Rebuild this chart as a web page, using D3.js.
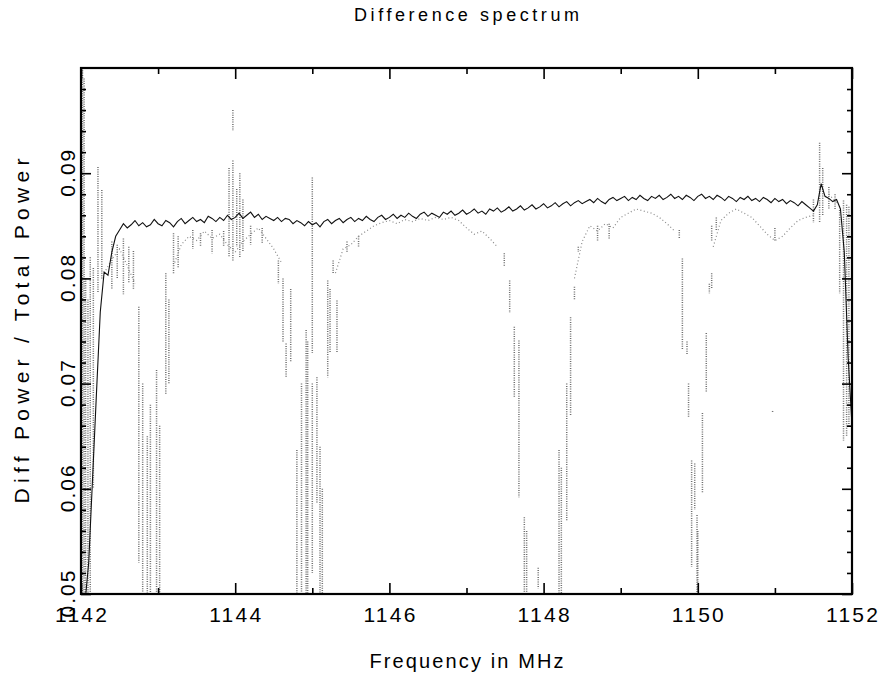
<!DOCTYPE html>
<html>
<head>
<meta charset="utf-8">
<script src="https://cdn.jsdelivr.net/npm/d3@7"></script>
<style>
  body { margin: 0; background: #fff; }
  svg { display: block; }
  .tick-label { font-family: "Liberation Sans", Arial, sans-serif; fill: #000; }
</style>
</head>
<body>
<div id="chart"></div>
<script>
// axis ticks
const xMajorTicks = [1142, 1144, 1146, 1148, 1150, 1152];
const xMinorTicks = [1143, 1145, 1147, 1149, 1151];
const yMajorTicks = [0.05, 0.06, 0.07, 0.08, 0.09];
const yMinorTicks = [0.052, 0.054, 0.056, 0.058, 0.062, 0.064, 0.066, 0.068,
  0.072, 0.074, 0.076, 0.078, 0.082, 0.084, 0.086, 0.088,
  0.092, 0.094, 0.096, 0.098];

// averaged difference spectrum, 0.05 MHz channels from 1142.00 to 1152.00
const mainStart = 1142;
const mainStep = 0.05;
const mainValues = [
  0.0470, 0.0490, 0.0530, 0.0610, 0.0690, 0.0768, 0.0806, 0.0803, 0.0825, 0.0840,
  0.0846, 0.0852, 0.0848, 0.0851, 0.0855, 0.0850, 0.0853, 0.0849, 0.0851, 0.0856,
  0.0852, 0.0850, 0.0855, 0.0853, 0.0849, 0.0854, 0.0857, 0.0852, 0.0855, 0.0858,
  0.0854, 0.0856, 0.0853, 0.0859, 0.0857, 0.0854, 0.0858, 0.0855, 0.0860, 0.0856,
  0.0858, 0.0862, 0.0857, 0.0860, 0.0863, 0.0858, 0.0861, 0.0856, 0.0859, 0.0857,
  0.0855, 0.0858, 0.0854, 0.0857, 0.0856, 0.0852, 0.0855, 0.0853, 0.0850, 0.0854,
  0.0851, 0.0853, 0.0849, 0.0854, 0.0856, 0.0852, 0.0855, 0.0857, 0.0853, 0.0856,
  0.0858, 0.0854, 0.0857, 0.0855, 0.0859, 0.0856, 0.0854, 0.0858, 0.0860, 0.0856,
  0.0858, 0.0861, 0.0857, 0.0860, 0.0858, 0.0862, 0.0859, 0.0857, 0.0861, 0.0863,
  0.0859, 0.0862, 0.0860, 0.0858, 0.0863, 0.0861, 0.0864, 0.0860, 0.0862, 0.0865,
  0.0861, 0.0863, 0.0866, 0.0862, 0.0864, 0.0861, 0.0866, 0.0864, 0.0867, 0.0863,
  0.0865, 0.0868, 0.0864, 0.0866, 0.0869, 0.0865, 0.0867, 0.0870, 0.0866, 0.0868,
  0.0871, 0.0867, 0.0869, 0.0872, 0.0868, 0.0871, 0.0873, 0.0869, 0.0872, 0.0874,
  0.0871, 0.0873, 0.0875, 0.0872, 0.0876, 0.0873, 0.0871, 0.0875, 0.0877, 0.0874,
  0.0876, 0.0878, 0.0874, 0.0877, 0.0875, 0.0879, 0.0876, 0.0874, 0.0878, 0.0876,
  0.0879, 0.0875, 0.0877, 0.0880, 0.0876, 0.0878, 0.0875, 0.0879, 0.0877, 0.0874,
  0.0878, 0.0880, 0.0876, 0.0878, 0.0875, 0.0879, 0.0877, 0.0874, 0.0878, 0.0876,
  0.0873, 0.0877, 0.0875, 0.0878, 0.0874, 0.0876, 0.0873, 0.0877, 0.0875, 0.0872,
  0.0876, 0.0873, 0.0875, 0.0871, 0.0874, 0.0872, 0.0869, 0.0873, 0.0870, 0.0867,
  0.0864, 0.0870, 0.0890, 0.0878, 0.0876, 0.0873, 0.0875, 0.0866, 0.0825, 0.0725,
  0.0660
];

// lower scatter of the individual spectra near the mean, 0.1 MHz channels (null = inside a dip)
const lowerStart = 1142;
const lowerStep = 0.1;
const lowerValues = [
  null, null, null, 0.0805, 0.0818, 0.0828, 0.0812, 0.0795, null, null,
  null, null, 0.0812, 0.0832, 0.0840, 0.0836, 0.0845, 0.0838, 0.0842, 0.0832,
  0.0825, 0.0835, 0.0842, 0.0848, 0.0838, 0.0828, 0.0815, null, null, null,
  null, null, null, 0.0805, 0.0828, 0.0832, 0.0840, 0.0845, 0.0850, 0.0853,
  0.0855, 0.0852, 0.0856, 0.0854, 0.0857, 0.0855, 0.0858, 0.0856, 0.0858, 0.0855,
  0.0848, 0.0842, 0.0845, 0.0838, 0.0830, null, null, null, null, null,
  null, null, null, null, 0.0800, 0.0835, 0.0850, 0.0845, 0.0852, 0.0848,
  0.0858, 0.0862, 0.0866, 0.0864, 0.0862, 0.0858, 0.0852, 0.0845, null, null,
  null, null, 0.0830, 0.0855, 0.0862, 0.0866, 0.0862, 0.0858, 0.0850, 0.0842,
  0.0836, 0.0840, 0.0848, 0.0855, 0.0858, 0.0860, null, 0.0880, 0.0872, null,
  null
];

// vertical dotted columns of the individual spectra: frequency, top, bottom
const streakFreq = [
  1142.00, 1142.02, 1142.04, 1142.06, 1142.09, 1142.12, 1142.16, 1142.22, 1142.27,
  1142.40, 1142.47, 1142.55, 1142.62, 1142.68, 1142.75, 1142.80, 1142.86, 1142.90,
  1142.98, 1143.02, 1143.10, 1143.14, 1143.20, 1143.26, 1143.45, 1143.55, 1143.70,
  1143.85, 1143.92, 1143.97, 1143.97, 1144.02, 1144.06, 1144.10, 1144.20, 1144.35,
  1144.56, 1144.62, 1144.66, 1144.72, 1144.80, 1144.86, 1144.92, 1144.94, 1145.00,
  1145.00, 1145.06, 1145.10, 1145.13, 1145.20, 1145.23, 1145.27, 1145.32, 1145.45,
  1145.60, 1147.49, 1147.56, 1147.62, 1147.68, 1147.75, 1147.78, 1147.93, 1148.20,
  1148.23, 1148.30, 1148.35, 1148.40, 1148.45, 1148.70, 1148.85, 1149.76, 1149.80,
  1149.86, 1149.88, 1149.92, 1149.96, 1149.99, 1150.00, 1150.06, 1150.11, 1150.15,
  1150.18, 1150.18, 1150.24, 1150.97, 1151.00, 1151.50, 1151.58, 1151.62, 1151.70,
  1151.78, 1151.84, 1151.89, 1151.93, 1151.96
];
const streakTop = [
  0.1000, 0.1000, 0.0990, 0.0800, 0.0780, 0.0820, 0.0810, 0.0906, 0.0884,
  0.0835, 0.0832, 0.0838, 0.0830, 0.0826, 0.0773, 0.0700, 0.0650, 0.0680,
  0.0713, 0.0660, 0.0805, 0.0780, 0.0843, 0.0840, 0.0846, 0.0843, 0.0846,
  0.0845, 0.0905, 0.0960, 0.0912, 0.0885, 0.0900, 0.0875, 0.0850, 0.0848,
  0.0817, 0.0800, 0.0738, 0.0790, 0.0637, 0.0700, 0.0751, 0.0740, 0.0896,
  0.0700, 0.0706, 0.0640, 0.0600, 0.0798, 0.0790, 0.0817, 0.0779, 0.0835,
  0.0840, 0.0824, 0.0798, 0.0754, 0.0741, 0.0573, 0.0560, 0.0525, 0.0637,
  0.0620, 0.0700, 0.0763, 0.0792, 0.0830, 0.0850, 0.0852, 0.0846, 0.0819,
  0.0740, 0.0700, 0.0627, 0.0624, 0.0575, 0.0560, 0.0672, 0.0748, 0.0795,
  0.0850, 0.0805, 0.0858, 0.0674, 0.0848, 0.0875, 0.0929, 0.0905, 0.0887,
  0.0880, 0.0865, 0.0874, 0.0870, 0.0868
];
const streakBottom = [
  0.0490, 0.0490, 0.0490, 0.0490, 0.0490, 0.0490, 0.0600, 0.0786, 0.0800,
  0.0790, 0.0800, 0.0785, 0.0795, 0.0790, 0.0530, 0.0490, 0.0490, 0.0490,
  0.0490, 0.0490, 0.0690, 0.0700, 0.0805, 0.0810, 0.0828, 0.0830, 0.0824,
  0.0830, 0.0820, 0.0940, 0.0817, 0.0830, 0.0820, 0.0825, 0.0832, 0.0833,
  0.0795, 0.0740, 0.0706, 0.0720, 0.0490, 0.0490, 0.0490, 0.0490, 0.0729,
  0.0520, 0.0587, 0.0490, 0.0490, 0.0706, 0.0730, 0.0805, 0.0729, 0.0825,
  0.0830, 0.0812, 0.0767, 0.0687, 0.0592, 0.0490, 0.0490, 0.0505, 0.0490,
  0.0490, 0.0570, 0.0670, 0.0780, 0.0825, 0.0836, 0.0838, 0.0838, 0.0732,
  0.0728, 0.0668, 0.0526, 0.0580, 0.0490, 0.0490, 0.0596, 0.0691, 0.0786,
  0.0836, 0.0790, 0.0845, 0.0672, 0.0835, 0.0853, 0.0853, 0.0860, 0.0865,
  0.0865, 0.0786, 0.0646, 0.0650, 0.0660
];

const width = 881;
const height = 673;
const margin = { top: 68, right: 29, bottom: 79, left: 81 };

const svg = d3.select('#chart')
  .append('svg')
  .attr('width', width)
  .attr('height', height);

const x = d3.scaleLinear()
  .domain([1142, 1152])
  .range([margin.left, width - margin.right]);

const y = d3.scaleLinear()
  .domain([0.05, 0.10])
  .range([height - margin.bottom, margin.top]);

svg.append('defs')
  .append('clipPath')
  .attr('id', 'plot-clip')
  .append('rect')
  .attr('x', x(1142))
  .attr('y', y(0.10))
  .attr('width', x(1152) - x(1142))
  .attr('height', y(0.05) - y(0.10));

const plot = svg.append('g').attr('clip-path', 'url(#plot-clip)');

// dotted columns
plot.append('g')
  .selectAll('line')
  .data(streakFreq.map((f, i) => ({ f, top: streakTop[i], bottom: streakBottom[i] })))
  .join('line')
  .attr('x1', d => x(d.f))
  .attr('x2', d => x(d.f))
  .attr('y1', d => y(d.top))
  .attr('y2', d => y(d.bottom))
  .attr('stroke', '#6e6e6e')
  .attr('stroke-width', 1.5)
  .attr('stroke-dasharray', '1,1.3');

const lowerData = lowerValues.map((v, i) => ({ f: lowerStart + i * lowerStep, v }));
plot.append('path')
  .datum(lowerData)
  .attr('fill', 'none')
  .attr('stroke', '#8a8a8a')
  .attr('stroke-width', 1.2)
  .attr('stroke-dasharray', '1,2.5')
  .attr('d', d3.line()
    .defined(d => d.v !== null)
    .x(d => x(d.f))
    .y(d => y(d.v)));

const mainData = mainValues.map((v, i) => ({ f: mainStart + i * mainStep, v }));
plot.append('path')
  .datum(mainData)
  .attr('fill', 'none')
  .attr('stroke', '#111')
  .attr('stroke-width', 1.1)
  .attr('d', d3.line().x(d => x(d.f)).y(d => y(d.v)));

// inward ticks on all four sides
const axes = svg.append('g');
const bottomY = y(0.05);
const topY = y(0.10);
const leftX = x(1142);
const rightX = x(1152);

axes.append('g')
  .attr('transform', `translate(0,${bottomY})`)
  .call(d3.axisBottom(x).tickValues(xMajorTicks).tickSize(-11).tickFormat(''));
axes.append('g')
  .attr('transform', `translate(0,${bottomY})`)
  .call(d3.axisBottom(x).tickValues(xMinorTicks).tickSize(-6).tickFormat(''));
axes.append('g')
  .attr('transform', `translate(0,${topY})`)
  .call(d3.axisTop(x).tickValues(xMajorTicks).tickSize(-11).tickFormat(''));
axes.append('g')
  .attr('transform', `translate(0,${topY})`)
  .call(d3.axisTop(x).tickValues(xMinorTicks).tickSize(-6).tickFormat(''));
axes.append('g')
  .attr('transform', `translate(${leftX},0)`)
  .call(d3.axisLeft(y).tickValues(yMajorTicks).tickSize(-10).tickFormat(''));
axes.append('g')
  .attr('transform', `translate(${leftX},0)`)
  .call(d3.axisLeft(y).tickValues(yMinorTicks).tickSize(-5).tickFormat(''));
axes.append('g')
  .attr('transform', `translate(${rightX},0)`)
  .call(d3.axisRight(y).tickValues(yMajorTicks).tickSize(-10).tickFormat(''));
axes.append('g')
  .attr('transform', `translate(${rightX},0)`)
  .call(d3.axisRight(y).tickValues(yMinorTicks).tickSize(-5).tickFormat(''));

axes.selectAll('.domain').remove();
axes.selectAll('.tick line').attr('stroke', '#000').attr('stroke-width', 1.6);

svg.append('rect')
  .attr('x', leftX)
  .attr('y', topY)
  .attr('width', rightX - leftX)
  .attr('height', bottomY - topY)
  .attr('fill', 'none')
  .attr('stroke', '#000')
  .attr('stroke-width', 2.2);

// tick labels
svg.append('g')
  .selectAll('text')
  .data(xMajorTicks)
  .join('text')
  .attr('class', 'tick-label')
  .attr('x', d => x(d))
  .attr('y', 622)
  .attr('text-anchor', 'middle')
  .attr('font-size', 21)
  .attr('textLength', 52)
  .attr('lengthAdjust', 'spacing')
  .text(d => d);

svg.append('g')
  .selectAll('text')
  .data(yMajorTicks)
  .join('text')
  .attr('class', 'tick-label')
  .attr('transform', d => `translate(75,${y(d)}) rotate(-90)`)
  .attr('text-anchor', 'middle')
  .attr('font-size', 21)
  .attr('textLength', 47)
  .attr('lengthAdjust', 'spacing')
  .text(d => d3.format('.2f')(d));

// titles
svg.append('text')
  .attr('class', 'tick-label')
  .attr('x', (leftX + rightX) / 2)
  .attr('y', 21)
  .attr('text-anchor', 'middle')
  .attr('font-size', 18)
  .attr('textLength', 225)
  .attr('lengthAdjust', 'spacing')
  .text('Difference spectrum');

svg.append('text')
  .attr('class', 'tick-label')
  .attr('x', (leftX + rightX) / 2)
  .attr('y', 668)
  .attr('text-anchor', 'middle')
  .attr('font-size', 20)
  .attr('textLength', 194)
  .attr('lengthAdjust', 'spacing')
  .text('Frequency in MHz');

svg.append('text')
  .attr('class', 'tick-label')
  .attr('transform', `translate(29,${(topY + bottomY) / 2}) rotate(-90)`)
  .attr('text-anchor', 'middle')
  .attr('font-size', 21)
  .attr('textLength', 345)
  .attr('lengthAdjust', 'spacing')
  .text('Diff Power / Total Power');
</script>
</body>
</html>
